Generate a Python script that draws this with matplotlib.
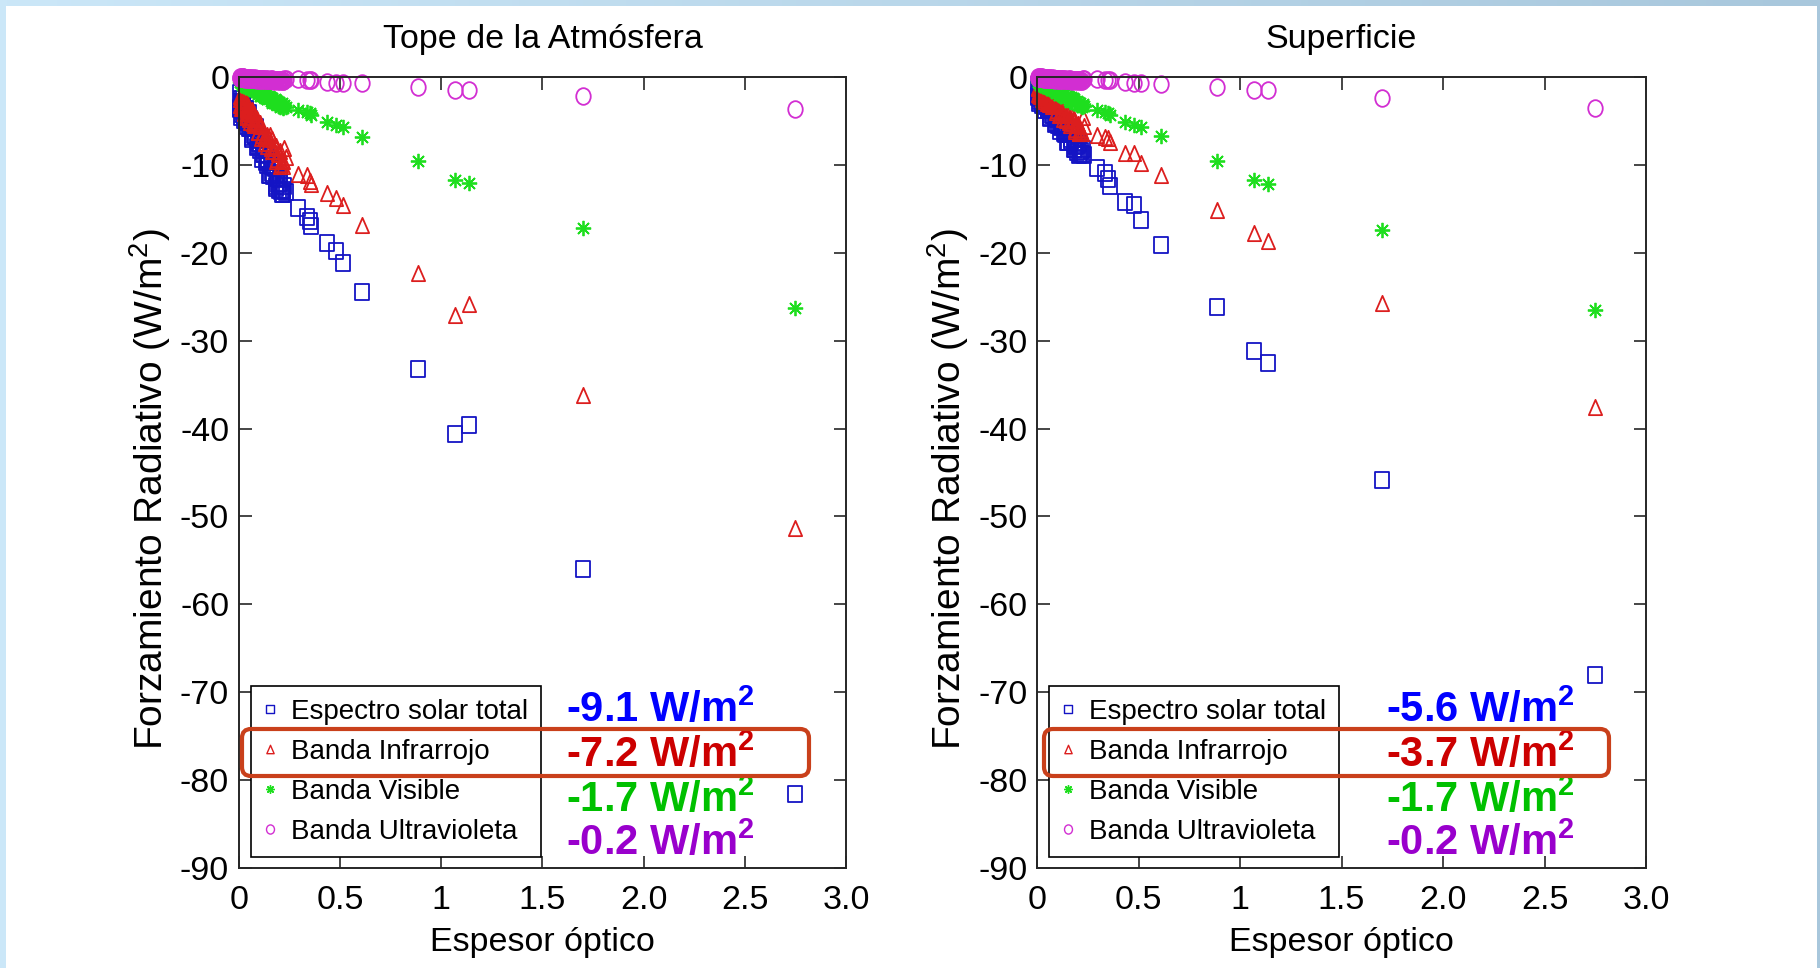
import numpy as np
import matplotlib
matplotlib.use("Agg")
import matplotlib.pyplot as plt
from matplotlib.colors import LinearSegmentedColormap
from matplotlib.lines import Line2D
from matplotlib.patches import FancyBboxPatch, Rectangle
from matplotlib.path import Path
from matplotlib.transforms import Affine2D

plt.rcParams['font.family'] = ['Liberation Sans', 'DejaVu Sans']
plt.rcParams['mathtext.default'] = 'regular'
plt.rcParams['axes.unicode_minus'] = False

# optical depth: two runs of low-AOD days, then the sparse high-AOD days
aod_cluster = [0.004, 0.007, 0.010, 0.013, 0.016, 0.019, 0.022, 0.026, 0.030, 0.034,
               0.039, 0.044, 0.049, 0.054, 0.060, 0.066, 0.072, 0.078, 0.085, 0.092,
               0.099, 0.106, 0.113, 0.121, 0.129, 0.137, 0.145, 0.153, 0.161, 0.169,
               0.177, 0.185, 0.193, 0.201, 0.209, 0.217]
aod_cluster2 = [0.006, 0.009, 0.012, 0.015, 0.018, 0.021, 0.024, 0.028, 0.032, 0.037,
                0.042, 0.047, 0.052, 0.057, 0.063, 0.069, 0.075, 0.082, 0.089, 0.096,
                0.103, 0.110, 0.117, 0.125, 0.133, 0.141, 0.149, 0.157, 0.165, 0.173,
                0.181, 0.189, 0.197, 0.205, 0.213, 0.220]
aod_sparse = [0.224, 0.232, 0.293, 0.334, 0.350, 0.358, 0.433, 0.478, 0.514, 0.610,
              0.886, 1.068, 1.137, 1.700, 2.750]

# top of atmosphere forcing (W/m2)
toa_total_c = [-1.8, -3.5, -2.8, -4.2, -2.8, -3.8, -2.5, -4.6, -4.0, -3.6, -5.6, -4.4,
               -4.1, -5.8, -5.3, -6.8, -5.6, -6.7, -5.7, -7.9, -7.5, -7.2, -9.3, -8.3,
               -8.1, -10.0, -9.6, -11.2, -10.1, -11.3, -10.3, -12.6, -12.2, -12.0, -13.0, -12.8]
toa_total_c2 = [-3.6, -2.5, -4.6, -3.2, -3.9, -2.9, -4.9, -3.7, -4.9, -3.6, -5.1, -5.0,
                -5.8, -4.8, -7.0, -5.8, -6.6, -5.8, -8.0, -7.0, -8.3, -7.1, -8.7, -8.7,
                -9.7, -8.9, -11.2, -10.0, -10.9, -10.2, -12.4, -11.5, -12.9, -11.6, -13.3, -13.3]
toa_ir_c = [-3.2, -2.1, -2.9, -1.9, -3.5, -3.0, -2.6, -4.1, -3.1, -2.7, -4.1, -3.6,
            -4.8, -3.7, -4.6, -3.7, -5.4, -5.0, -4.7, -6.3, -5.4, -5.2, -6.6, -6.3,
            -7.5, -6.6, -7.5, -6.6, -8.4, -8.1, -7.8, -9.5, -8.6, -8.4, -9.9, -9.5]
toa_ir_c2 = [-2.5, -3.5, -2.3, -3.4, -2.3, -3.4, -2.7, -4.0, -3.2, -4.5, -3.8, -4.4,
             -4.0, -5.1, -4.0, -5.2, -4.2, -5.4, -4.8, -6.2, -5.6, -6.9, -6.3, -6.9,
             -6.7, -7.9, -6.9, -8.1, -7.1, -8.4, -7.8, -9.3, -8.7, -10.1, -9.4, -10.1]
toa_vis_c = [-0.1, -0.6, -0.4, -0.3, -0.9, -0.5, -0.3, -0.8, -0.7, -1.1, -0.7, -1.0,
             -0.7, -1.3, -1.1, -1.0, -1.6, -1.3, -1.2, -1.8, -1.6, -2.1, -1.7, -2.1,
             -1.8, -2.5, -2.3, -2.3, -2.9, -2.6, -2.5, -3.1, -2.9, -3.4, -3.1, -3.4]
toa_vis_c2 = [-0.2, -0.7, -0.4, -0.7, -0.4, -0.9, -0.5, -1.0, -0.6, -1.1, -0.8, -1.2,
              -0.9, -1.4, -1.0, -1.5, -1.2, -1.7, -1.4, -1.9, -1.5, -2.1, -1.8, -2.3,
              -1.9, -2.5, -2.2, -2.7, -2.4, -2.9, -2.6, -3.1, -2.8, -3.3, -3.0, -3.5]
toa_uv_c = [0.0, -0.1, -0.1, 0.0, -0.1, -0.1, 0.0, -0.1, -0.1, -0.1, -0.2, -0.1,
            -0.1, -0.2, -0.1, -0.2, -0.2, -0.1, -0.2, -0.2, -0.2, -0.3, -0.2, -0.2,
            -0.3, -0.2, -0.3, -0.3, -0.2, -0.3, -0.3, -0.3, -0.4, -0.3, -0.3, -0.4]
toa_uv_c2 = [-0.1, 0.0, -0.1, -0.1, 0.0, -0.1, -0.1, -0.1, -0.2, -0.1, -0.1, -0.2,
             -0.2, -0.1, -0.2, -0.1, -0.2, -0.2, -0.3, -0.2, -0.2, -0.3, -0.2, -0.3,
             -0.2, -0.3, -0.3, -0.2, -0.3, -0.4, -0.3, -0.3, -0.3, -0.4, -0.3, -0.4]
toa_total_s = [-12.4, -13.1, -14.9, -15.9, -16.4, -16.9, -18.9, -19.8, -21.2, -24.5,
               -33.2, -40.6, -39.6, -56.0, -81.6]
toa_ir_s = [-8.1, -9.1, -11.0, -11.2, -11.8, -12.2, -13.2, -13.8, -14.6, -16.8,
            -22.3, -27.1, -25.8, -36.2, -51.3]
toa_vis_s = [-3.2, -3.4, -3.7, -4.0, -4.1, -4.3, -5.1, -5.4, -5.7, -6.8,
             -9.6, -11.7, -12.0, -17.2, -26.3]
toa_uv_s = [-0.2, -0.2, -0.2, -0.3, -0.3, -0.3, -0.6, -0.7, -0.7, -0.7,
            -1.1, -1.5, -1.5, -2.2, -3.6]

# surface forcing (W/m2)
sfc_total_c = [-0.9, -2.2, -1.7, -2.7, -1.6, -2.4, -1.4, -3.0, -2.5, -2.1, -3.7, -2.7,
               -2.4, -3.8, -3.3, -4.5, -3.5, -4.3, -3.4, -5.2, -4.8, -4.5, -6.1, -5.3,
               -5.0, -6.5, -6.1, -7.4, -6.4, -7.3, -6.5, -8.2, -7.9, -7.7, -8.9, -8.4]
sfc_total_c2 = [-2.3, -1.4, -3.0, -1.9, -2.4, -1.7, -3.2, -2.3, -3.2, -2.1, -3.3, -3.1,
                -3.8, -3.0, -4.7, -3.7, -4.3, -3.6, -5.3, -4.5, -5.5, -4.4, -5.7, -5.6,
                -6.4, -5.7, -7.4, -6.5, -7.1, -6.5, -8.2, -7.4, -8.5, -7.5, -8.8, -8.7]
sfc_ir_c = [-1.9, -1.1, -1.6, -0.8, -2.1, -1.6, -1.4, -2.5, -1.7, -1.4, -2.5, -2.1,
            -2.9, -2.1, -2.8, -2.1, -3.3, -3.0, -2.8, -4.0, -3.3, -3.1, -4.2, -3.9,
            -4.8, -4.1, -4.7, -4.1, -5.4, -5.1, -4.9, -6.1, -5.5, -5.3, -6.4, -6.1]
sfc_ir_c2 = [-1.3, -2.0, -1.1, -1.9, -1.1, -1.9, -1.4, -2.3, -1.8, -2.7, -2.2, -2.6,
             -2.3, -3.1, -2.3, -3.1, -2.4, -3.2, -2.8, -3.8, -3.3, -4.3, -3.8, -4.3,
             -4.0, -4.9, -4.2, -5.1, -4.3, -5.2, -4.8, -5.9, -5.4, -6.4, -5.9, -6.4]
sfc_vis_c = [-0.2, -0.6, -0.4, -0.4, -0.9, -0.5, -0.4, -0.8, -0.7, -1.0, -0.8, -1.0,
             -0.8, -1.3, -1.1, -1.1, -1.5, -1.3, -1.2, -1.8, -1.6, -2.0, -1.7, -2.0,
             -1.8, -2.4, -2.2, -2.2, -2.8, -2.5, -2.4, -3.0, -2.8, -3.2, -3.0, -3.3]
sfc_vis_c2 = [-0.3, -0.7, -0.4, -0.7, -0.5, -0.9, -0.5, -1.0, -0.7, -1.1, -0.8, -1.2,
              -0.9, -1.3, -1.0, -1.5, -1.2, -1.6, -1.4, -1.8, -1.5, -2.0, -1.8, -2.2,
              -1.9, -2.4, -2.1, -2.6, -2.3, -2.8, -2.5, -3.0, -2.7, -3.2, -2.9, -3.4]
sfc_uv_c = [0.0, -0.1, -0.1, 0.0, -0.1, -0.1, 0.0, -0.1, -0.1, -0.1, -0.2, -0.1,
            -0.1, -0.2, -0.1, -0.2, -0.2, -0.1, -0.2, -0.2, -0.2, -0.3, -0.2, -0.2,
            -0.3, -0.2, -0.3, -0.3, -0.2, -0.3, -0.3, -0.3, -0.4, -0.3, -0.3, -0.4]
sfc_uv_c2 = [-0.1, 0.0, -0.1, -0.1, 0.0, -0.1, -0.1, -0.1, -0.2, -0.1, -0.1, -0.2,
             -0.2, -0.1, -0.2, -0.1, -0.2, -0.2, -0.3, -0.2, -0.2, -0.3, -0.2, -0.3,
             -0.2, -0.3, -0.3, -0.2, -0.3, -0.4, -0.3, -0.3, -0.3, -0.4, -0.3, -0.4]
sfc_total_s = [-8.2, -8.9, -10.4, -10.9, -11.6, -12.4, -14.2, -14.6, -16.3, -19.1,
               -26.2, -31.2, -32.5, -45.8, -68.0]
sfc_ir_s = [-4.5, -5.6, -6.6, -6.8, -6.9, -7.4, -8.6, -8.6, -9.8, -11.1,
            -15.1, -17.8, -18.6, -25.7, -37.6]
sfc_vis_s = [-3.1, -3.3, -3.7, -4.0, -4.1, -4.3, -5.1, -5.4, -5.7, -6.7,
             -9.6, -11.7, -12.2, -17.4, -26.5]
sfc_uv_s = [-0.2, -0.2, -0.2, -0.3, -0.3, -0.3, -0.6, -0.7, -0.7, -0.8,
            -1.1, -1.5, -1.5, -2.4, -3.5]

# mean forcing per band
toa_means = ['-9.1', '-7.2', '-1.7', '-0.2']
sfc_means = ['-5.6', '-3.7', '-1.7', '-0.2']

band_names = ['Espectro solar total', 'Banda Infrarrojo', 'Banda Visible', 'Banda Ultravioleta']
xtick_labels = ['0', '0.5', '1', '1.5', '2.0', '2.5', '3.0']
ytick_labels = ['-90', '-80', '-70', '-60', '-50', '-40', '-30', '-20', '-10', '0']

# slightly tall marker shapes (the figure was exported with a vertical stretch)
tall = Affine2D().scale(1.0, 1.15)
sq_marker = Path([(-1, -1), (1, -1), (1, 1), (-1, 1), (-1, -1)],
                 [Path.MOVETO, Path.LINETO, Path.LINETO, Path.LINETO, Path.CLOSEPOLY])
sq_marker = sq_marker.transformed(tall)
tri_marker = Path([(0, 1), (-1, -1), (1, -1), (0, 1)],
                  [Path.MOVETO, Path.LINETO, Path.LINETO, Path.CLOSEPOLY]).transformed(tall)
circ_marker = Path.unit_circle().transformed(tall)

markers = [sq_marker, tri_marker, (8, 2, 0), circ_marker]
msizes = [11, 11, 11, 12]
colors = ['#1414c4', '#dc1e1e', '#1ede1e', '#d22ed2']
mean_colors = ['#0000ff', '#cc0000', '#00c000', '#9900cc']

W, H = 1820, 968
fig = plt.figure(figsize=(W / 100, H / 100), dpi=100)

# slide frame: light blue border, white page
bg = fig.add_axes([0, 0, 1, 1])
frame_cmap = LinearSegmentedColormap.from_list('frame', ['#cbe7f8', '#a8c7dc'])
bg.imshow(np.linspace(0, 1, 256).reshape(1, -1), cmap=frame_cmap, aspect='auto',
          extent=(0, W, H, 0))
bg.add_patch(Rectangle((6, 6), W - 9, H - 6, color='white', lw=0))
bg.set_xlim(0, W)
bg.set_ylim(H, 0)
bg.axis('off')

aod_all = aod_cluster + aod_cluster2 + aod_sparse


def draw_panel(rect, title, series, means, text_x):
    ax = fig.add_axes(rect)
    for i, y in enumerate(series):
        ax.plot(aod_all, y, ls='none', marker=markers[i], ms=msizes[i], mfc='none',
                mec=colors[i], mew=1.3, clip_on=False)
    ax.set_xlim(0, 3)
    ax.set_ylim(-90, 0)
    ax.set_xticks(np.arange(0, 3.01, 0.5))
    ax.set_xticklabels(xtick_labels)
    ax.set_yticks(np.arange(-90, 1, 10))
    ax.set_yticklabels(ytick_labels)
    ax.tick_params(axis='both', direction='in', length=9, width=1.2, colors='#262626',
                   labelcolor='black', labelsize=24.5, top=True, right=True)
    ax.tick_params(axis='x', pad=12)
    ax.tick_params(axis='y', pad=7)
    for sp in ax.spines.values():
        sp.set_linewidth(1.4)
        sp.set_color('#262626')
    ax.set_title(title, fontsize=24.5, pad=21)
    ax.set_xlabel('Espesor óptico', fontsize=24.5, labelpad=8)
    ax.set_ylabel('Forzamiento Radiativo (W/m$^2$)', fontsize=28)
    ax.yaxis.set_label_coords(-0.108, 0.479)

    handles = [Line2D([], [], ls='none', marker=markers[i], ms=msizes[i], mfc='none',
                      mec=colors[i], mew=1.0) for i in range(4)]
    leg = ax.legend(handles, band_names, loc='lower left', bbox_to_anchor=(0.0198, 0.0139),
                    borderaxespad=0, fontsize=20, fancybox=False, edgecolor='black',
                    framealpha=1, labelspacing=0.5, borderpad=0.45, handlelength=0.45,
                    handletextpad=0.55, markerscale=0.55)
    leg.get_frame().set_linewidth(1.2)

    for val, yb, c in zip(means, [0.1846, 0.1277, 0.0708, 0.0164], mean_colors):
        ax.text(text_x, yb, val + ' W/m$^{2}$', transform=ax.transAxes, color=c,
                fontsize=30, fontweight='bold', ha='left', va='baseline', zorder=10)
    return ax


toa_series = [toa_total_c + toa_total_c2 + toa_total_s,
              toa_ir_c + toa_ir_c2 + toa_ir_s,
              toa_vis_c + toa_vis_c2 + toa_vis_s,
              toa_uv_c + toa_uv_c2 + toa_uv_s]
sfc_series = [sfc_total_c + sfc_total_c2 + sfc_total_s,
              sfc_ir_c + sfc_ir_c2 + sfc_ir_s,
              sfc_vis_c + sfc_vis_c2 + sfc_vis_s,
              sfc_uv_c + sfc_uv_c2 + sfc_uv_s]

draw_panel([0.1313, 0.1033, 0.3335, 0.8171], 'Tope de la Atmósfera', toa_series, toa_means, 0.539)
draw_panel([0.5698, 0.1033, 0.3346, 0.8171], 'Superficie', sfc_series, sfc_means, 0.573)

# highlight boxes around the infrared row, in pixel units
top = fig.add_axes([0, 0, 1, 1])
top.set_xlim(0, W)
top.set_ylim(H, 0)
top.axis('off')
for x0, w in [(242, 567), (1044, 565)]:
    top.add_patch(FancyBboxPatch((x0, 729), w, 47, boxstyle='round,pad=0,rounding_size=9',
                                 fill=False, ec='#c9401b', lw=3))

fig.savefig('out.png', dpi=100)
